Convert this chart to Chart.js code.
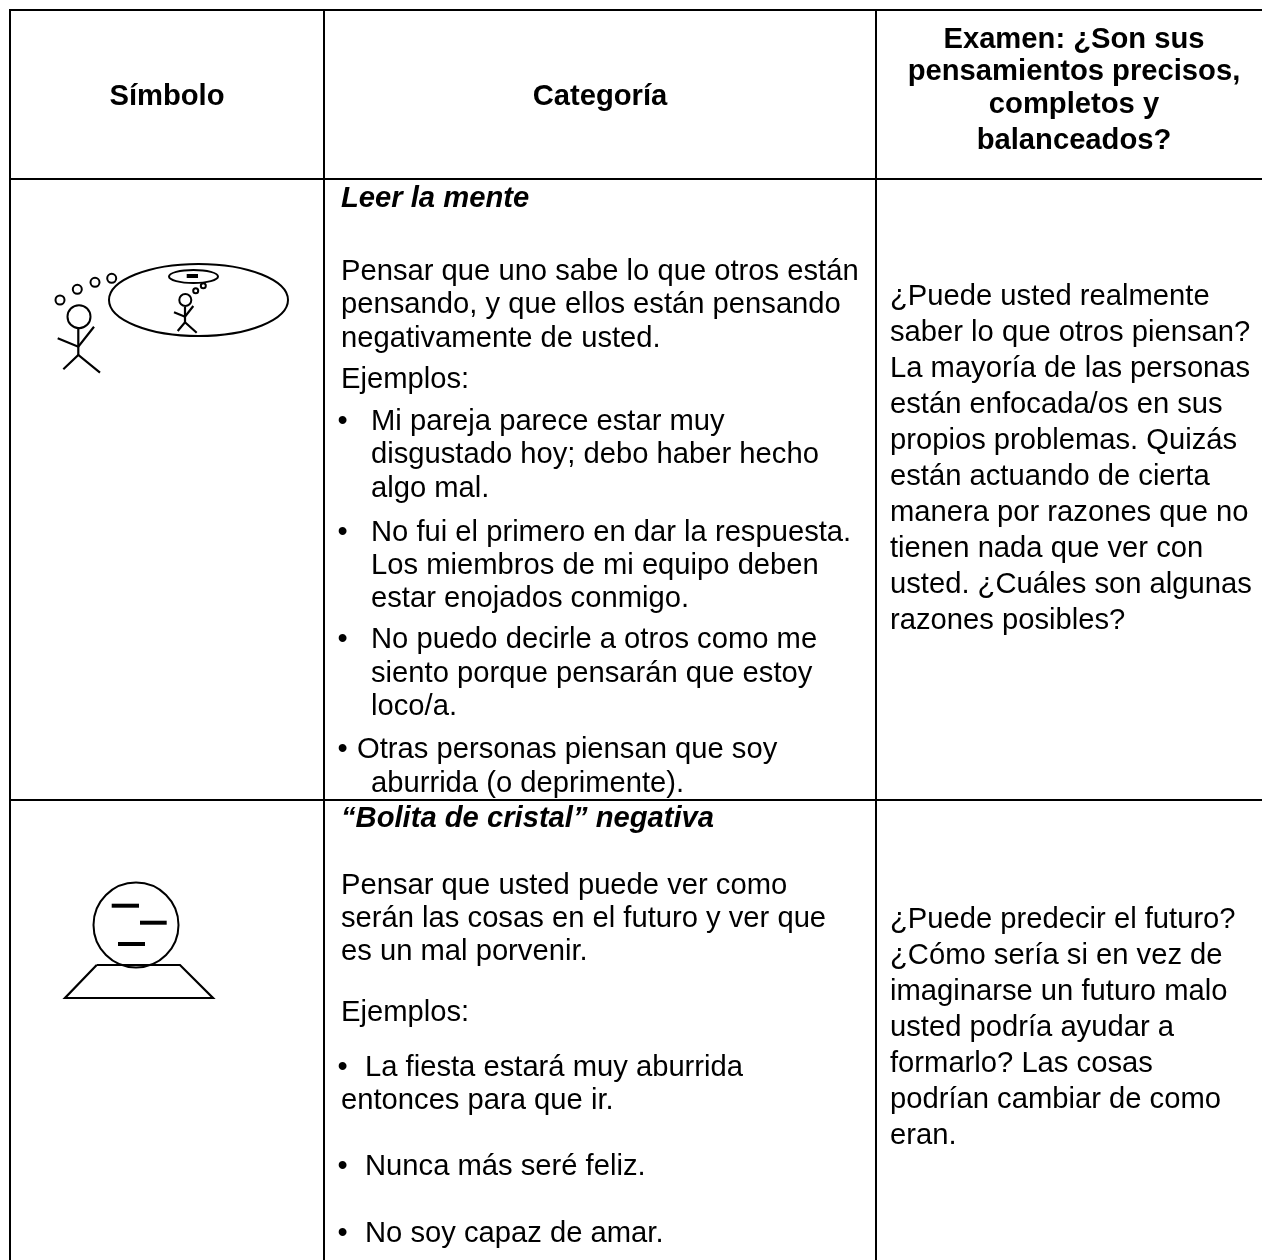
<!DOCTYPE html>
<html>
<head>
<meta charset="utf-8">
<title>Símbolo / Categoría / Examen</title>
<script src="https://cdn.jsdelivr.net/npm/chart.js@4"></script>
<style>
  html, body { margin: 0; padding: 0; background: #fff; }
  #wrap { width: 1262px; height: 1260px; }
</style>
</head>
<body>
<div id="wrap"><canvas id="chart" width="1262" height="1260"></canvas></div>
<script>
// table rules, [x1, y1, x2, y2]
const tableRules = [
  [9, 10, 1262, 10], [9, 179, 1262, 179], [9, 800, 1262, 800],
  [10, 9, 10, 1260], [324, 9, 324, 1260], [876, 9, 876, 1260]
];

// the two drawings, thin polylines
const figureLines = [
  // big stick man
  [[78.3, 327], [78.3, 355]], [[57.7, 338.3], [78.3, 346.7], [94, 326.7]], [[63.3, 369.3], [78.3, 355], [100, 372.7]],
  // small stick man
  [[185, 307], [185, 322]], [[174, 312.3], [185, 316.7], [193.3, 306]], [[177.7, 331], [185, 322.3], [196.7, 332.7]],
  // ball stand
  [[96.7, 965], [65, 998], [213, 998], [180, 965], [96.7, 965]]
];

// minus sign and crystal ball dashes, thick
const dashLines = [
  [[186.7, 276], [198, 276]],
  [[111.7, 905.7], [139, 905.7]], [[140, 922.7], [166.7, 922.7]], [[118, 944], [145, 944]]
];

// circles, [x, y, r]
const figureCircles = [
  [79, 316.7, 11.5], [60, 300, 4.5], [77.3, 289.3, 4.5], [95, 282.3, 4.5], [111.7, 278.3, 4.5],
  [185.3, 300, 6], [195.7, 290.7, 2.5], [203.3, 285.7, 2.5],
  [136, 925, 42.5]
];

// ellipses, [x, y, rx, ry]
const figureEllipses = [[198.5, 300, 89.5, 36], [193.5, 276.5, 24.5, 6.5]];

const headerLines = [
  ["Símbolo", 167, 105], ["Categoría", 600, 105],
  ["Examen: ¿Son sus", 1074, 48], ["pensamientos precisos,", 1074, 80],
  ["completos y", 1074, 113], ["balanceados?", 1074, 149]
];

const titleLines = [
  ["Leer la mente", 341, 207], ["“Bolita de cristal” negativa", 341, 827]
];

const bulletRows = [430, 541, 648, 758, 1076, 1175, 1242];
const bulletX = 337.5;

const bodyLines = [
  ["Pensar que uno sabe lo que otros están", 341, 280],
  ["pensando, y que ellos están pensando", 341, 313],
  ["negativamente de usted.", 341, 347],
  ["Ejemplos:", 341, 388],
  ["Mi pareja parece estar muy", 371, 430],
  ["disgustado hoy; debo haber hecho", 371, 463],
  ["algo mal.", 371, 497],
  ["No fui el primero en dar la respuesta.", 371, 541],
  ["Los miembros de mi equipo deben", 371, 574],
  ["estar enojados conmigo.", 371, 607],
  ["No puedo decirle a otros como me", 371, 648],
  ["siento porque pensarán que estoy", 371, 682],
  ["loco/a.", 371, 715],
  ["Otras personas piensan que soy", 357, 758],
  ["aburrida (o deprimente).", 371, 792],
  ["Pensar que usted puede ver como", 341, 894],
  ["serán las cosas en el futuro y ver que", 341, 927],
  ["es un mal porvenir.", 341, 960],
  ["Ejemplos:", 341, 1021],
  ["La fiesta estará muy aburrida", 365, 1076],
  ["entonces para que ir.", 341, 1109],
  ["Nunca más seré feliz.", 365, 1175],
  ["No soy capaz de amar.", 365, 1242],
  ["¿Puede usted realmente", 890, 305],
  ["saber lo que otros piensan?", 890, 341],
  ["La mayoría de las personas", 890, 377],
  ["están enfocada/os en sus", 890, 413],
  ["propios problemas. Quizás", 890, 449],
  ["están actuando de cierta", 890, 485],
  ["manera por razones que no", 890, 521],
  ["tienen nada que ver con", 890, 557],
  ["usted. ¿Cuáles son algunas", 890, 593],
  ["razones posibles?", 890, 629],
  ["¿Puede predecir el futuro?", 890, 928],
  ["¿Cómo sería si en vez de", 890, 964],
  ["imaginarse un futuro malo", 890, 1000],
  ["usted podría ayudar a", 890, 1036],
  ["formarlo? Las cosas", 890, 1072],
  ["podrían cambiar de como", 890, 1108],
  ["eran.", 890, 1144]
];

const lineDatasets = (list, width) => list.map((pts) => ({
  type: "scatter",
  showLine: true,
  data: pts.map(([x, y]) => ({ x, y })),
  borderColor: "#000",
  borderWidth: width,
  pointRadius: 0,
  tension: 0
}));

const tablePlugin = {
  id: "tableText",
  afterDatasetsDraw(chart){
    const { ctx, scales: { x, y } } = chart;
    ctx.save();
    ctx.strokeStyle = "#000";
    ctx.lineWidth = 2;
    for (const [cx, cy, rx, ry] of figureEllipses){
      ctx.beginPath();
      ctx.ellipse(x.getPixelForValue(cx), y.getPixelForValue(cy), rx, ry, 0, 0, Math.PI * 2);
      ctx.stroke();
    }
    ctx.fillStyle = "#000";
    ctx.textBaseline = "alphabetic";
    const put = (rows, font, align) => {
      ctx.font = font;
      ctx.textAlign = align;
      for (const [text, tx, ty] of rows) ctx.fillText(text, x.getPixelForValue(tx), y.getPixelForValue(ty));
    };
    put(headerLines, "bold 29.2px 'Liberation Sans'", "center");
    put(titleLines, "italic bold 29.2px 'Liberation Sans'", "left");
    put(bodyLines, "29.2px 'Liberation Sans'", "left");
    put(bulletRows.map((ty) => ["•", bulletX, ty]), "29.2px 'Liberation Sans'", "left");
    ctx.restore();
  }
};

new Chart(document.getElementById("chart"), {
  data: {
    datasets: [
      ...lineDatasets(tableRules.map(([a, b, c, d]) => [[a, b], [c, d]]), 2),
      ...lineDatasets(figureLines, 2.2),
      ...lineDatasets(dashLines, 4),
      {
        type: "bubble",
        data: figureCircles.map(([x, y, r]) => ({ x, y, r })),
        backgroundColor: "rgba(0,0,0,0)",
        borderColor: "#000",
        borderWidth: 2
      }
    ]
  },
  options: {
    responsive: false,
    animation: false,
    events: [],
    layout: { padding: 0, autoPadding: false },
    plugins: { legend: { display: false }, tooltip: { enabled: false } },
    scales: {
      x: { type: "linear", min: 0, max: 1262, display: false },
      y: { type: "linear", min: 0, max: 1260, reverse: true, display: false }
    }
  },
  plugins: [tablePlugin]
});
</script>
</body>
</html>
